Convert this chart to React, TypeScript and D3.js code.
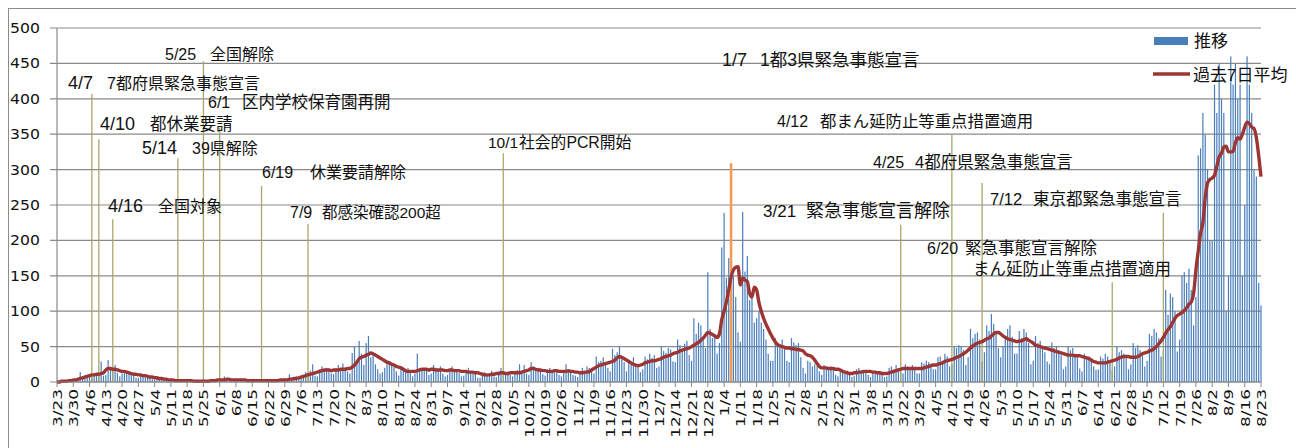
import * as d3 from 'd3';

// daily new cases, one row per week (Mon..Sun), from 2020-03-23
const daily: number[] = [
  0, 0, 2, 1, 0, 3, 2,
  2, 4, 3, 14, 5, 9, 8,
  8, 11, 9, 13, 12, 29, 9,
  10, 31, 21, 18, 24, 13, 8,
  12, 16, 14, 12, 11, 9, 6,
  6, 10, 8, 7, 9, 5, 4,
  3, 5, 4, 3, 4, 2, 2,
  2, 3, 2, 1, 3, 1, 1,
  1, 2, 1, 1, 1, 1, 0,
  0, 1, 2, 1, 3, 4, 2,
  2, 4, 8, 3, 3, 2, 1,
  2, 3, 4, 3, 2, 2, 1,
  1, 3, 2, 3, 2, 1, 2,
  2, 2, 1, 3, 3, 4, 3,
  3, 4, 11, 6, 7, 8, 4,
  5, 10, 14, 12, 16, 25, 9,
  8, 18, 22, 17, 20, 19, 12,
  11, 19, 24, 18, 26, 20, 15,
  12, 41, 50, 27, 58, 40, 24,
  55, 65, 35, 40, 25, 18, 12,
  14, 20, 30, 28, 25, 22, 15,
  9, 22, 18, 16, 20, 14, 8,
  12, 40, 15, 17, 19, 16, 10,
  12, 24, 20, 15, 22, 12, 8,
  10, 19, 22, 16, 17, 13, 8,
  9, 16, 20, 13, 15, 12, 6,
  6, 12, 14, 10, 9, 16, 8,
  7, 15, 20, 14, 11, 14, 10,
  8, 14, 17, 25, 12, 24, 12,
  10, 28, 22, 18, 20, 16, 11,
  9, 18, 20, 15, 18, 17, 10,
  8, 16, 25, 14, 17, 10, 9,
  7, 15, 20, 14, 22, 20, 20,
  12, 36, 28, 30, 35, 28, 20,
  15, 47, 38, 42, 50, 33, 28,
  15, 30, 26, 35, 25, 22, 14,
  18, 36, 32, 40, 34, 38, 20,
  22, 50, 44, 41, 48, 46, 29,
  28, 60, 52, 46, 54, 58, 38,
  30, 90, 68, 84, 80, 62, 48,
  155, 75, 62, 68, 40, 55, 190,
  239, 147, 175, 240, 150, 120, 70,
  57, 240, 156, 178, 116, 126, 84,
  90, 100, 84, 75, 60, 40, 30,
  30, 62, 55, 48, 60, 50, 30,
  28, 62, 56, 52, 55, 35, 20,
  12, 30, 28, 22, 25, 22, 15,
  10, 24, 22, 20, 22, 18, 10,
  8, 15, 14, 12, 16, 12, 7,
  9, 18, 20, 16, 17, 15, 10,
  7, 15, 16, 14, 13, 12, 7,
  8, 20, 22, 18, 24, 20, 14,
  12, 25, 22, 20, 24, 18, 12,
  12, 28, 26, 30, 28, 26, 18,
  18, 35, 36, 30, 40, 36, 22,
  25, 50, 48, 52, 50, 45, 24,
  35, 75, 62, 68, 70, 60, 29,
  42, 80, 72, 96, 82, 70, 48,
  35, 50, 62, 75, 80, 64, 40,
  40, 72, 62, 75, 70, 55, 25,
  30, 65, 55, 58, 50, 42, 29,
  25, 56, 48, 50, 45, 38, 18,
  22, 50, 45, 48, 40, 35, 19,
  15, 40, 34, 36, 32, 22, 17,
  18, 36, 33, 40, 36, 30, 17,
  22, 50, 42, 45, 40, 35, 18,
  25, 55, 48, 52, 45, 40, 22,
  30, 68, 65, 75, 70, 62, 36,
  45, 130, 95, 125, 120, 100, 43,
  60, 150, 155, 140, 160, 130, 80,
  120, 320, 330, 380, 350, 300, 200,
  200, 420, 380, 450, 400, 380, 101,
  150, 460, 420, 450, 400, 420, 150,
  250, 460, 420, 380, 300, 290, 140,
  108,
];

// 過去7日平均, same day order
const avg7: number[] = [
  0, 0, 1, 1, 1, 2, 2,
  3, 3, 4, 5, 6, 7, 8,
  9, 10, 10, 11, 11, 12, 13,
  17, 19, 19, 18, 18, 17, 16,
  15, 15, 14, 13, 12, 11, 11,
  10, 10, 9, 9, 8, 7, 7,
  6, 6, 5, 5, 4, 4, 3,
  3, 3, 2, 2, 2, 2, 2,
  2, 2, 2, 1, 1, 1, 1,
  1, 1, 1, 2, 2, 2, 3,
  3, 3, 3, 4, 4, 3, 3,
  3, 3, 3, 3, 3, 2, 2,
  2, 2, 2, 2, 2, 2, 2,
  2, 2, 2, 2, 2, 3, 3,
  3, 3, 4, 4, 5, 5, 6,
  7, 8, 9, 10, 11, 12, 13,
  14, 15, 16, 17, 17, 17, 16,
  17, 17, 17, 18, 18, 18, 19,
  19, 21, 24, 28, 33, 35, 36,
  38, 39, 41, 40, 38, 36, 34,
  32, 30, 28, 27, 25, 24, 22,
  21, 20, 18, 16, 15, 15, 15,
  15, 16, 17, 18, 18, 18, 17,
  18, 18, 17, 17, 17, 17, 16,
  16, 17, 17, 16, 16, 16, 15,
  15, 15, 14, 14, 14, 13, 13,
  12, 11, 10, 10, 10, 11, 11,
  12, 12, 13, 13, 12, 12, 13,
  13, 13, 13, 13, 14, 15, 16,
  17, 19, 19, 18, 17, 17, 16,
  16, 15, 15, 15, 16, 16, 15,
  15, 15, 15, 16, 15, 15, 14,
  14, 13, 13, 14, 14, 15, 17,
  19, 21, 23, 24, 25, 26, 27,
  28, 29, 31, 34, 36, 35, 33,
  31, 29, 27, 25, 24, 23, 24,
  25, 27, 28, 29, 30, 30, 31,
  32, 33, 35, 36, 37, 38, 40,
  41, 42, 44, 45, 46, 47, 48,
  50, 52, 54, 56, 59, 62, 66,
  70, 69, 67, 65, 63, 68, 88,
  100, 113, 130, 148, 158, 162, 163,
  137, 147, 144, 142, 125, 120, 134,
  130, 112, 100, 90, 82, 75, 68,
  62, 57, 53, 51, 50, 49, 48,
  48, 47, 47, 46, 46, 45, 44,
  40, 38, 37, 35, 31, 26, 22,
  20, 20, 20, 19, 19, 19, 18,
  18, 17, 15, 14, 13, 12, 12,
  13, 13, 14, 14, 15, 15, 15,
  15, 14, 14, 13, 13, 12, 12,
  12, 13, 14, 15, 16, 17, 18,
  19, 19, 19, 19, 19, 19, 19,
  19, 19, 20, 21, 22, 23, 24,
  24, 25, 26, 27, 29, 30, 31,
  32, 33, 35, 36, 38, 40, 42,
  45, 48, 51, 53, 55, 56, 57,
  59, 61, 62, 65, 68, 70, 70,
  68, 65, 63, 61, 60, 59, 58,
  57, 58, 58, 60, 61, 59, 57,
  55, 52, 51, 50, 49, 48, 47,
  46, 45, 44, 43, 42, 41, 40,
  39, 38, 38, 38, 37, 37, 37,
  36, 35, 34, 33, 31, 29, 28,
  27, 27, 27, 27, 28, 29, 30,
  31, 32, 34, 35, 36, 36, 36,
  35, 35, 35, 36, 38, 40, 41,
  42, 44, 45, 47, 50, 54, 58,
  63, 69, 74, 78, 84, 90, 94,
  96, 98, 101, 105, 110, 113, 125,
  158, 185, 210, 225, 260, 281, 286,
  288, 292, 305, 318, 323, 332, 333,
  325, 325, 326, 338, 345, 343, 350,
  360, 367, 365, 360, 358, 345, 320,
  290,
];

const yTicks = [0, 50, 100, 150, 200, 250, 300, 350, 400, 450, 500];

// events: date, short label, description, top of the marker line (in cases)
const events = [
  { date: '2020-04-07', label: '4/7', text: '7都府県緊急事態宣言', top: 407 },
  { date: '2020-04-10', label: '4/10', text: '都休業要請', top: 343 },
  { date: '2020-04-16', label: '4/16', text: '全国対象', top: 230 },
  { date: '2020-05-14', label: '5/14', text: '39県解除', top: 316 },
  { date: '2020-05-25', label: '5/25', text: '全国解除', top: 453 },
  { date: '2020-06-01', label: '6/1', text: '区内学校保育園再開', top: 359 },
  { date: '2020-06-19', label: '6/19', text: '休業要請解除', top: 277 },
  { date: '2020-07-09', label: '7/9', text: '都感染確認200超', top: 223 },
  { date: '2020-10-01', label: '10/1', text: '社会的PCR開始', top: 323 },
  { date: '2021-01-07', label: '1/7', text: '1都3県緊急事態宣言', top: 309 },
  { date: '2021-03-21', label: '3/21', text: '緊急事態宣言解除', top: 222 },
  { date: '2021-04-12', label: '4/12', text: '都まん延防止等重点措置適用', top: 349 },
  { date: '2021-04-25', label: '4/25', text: '4都府県緊急事態宣言', top: 281 },
  { date: '2021-06-20', label: '6/20', text: '緊急事態宣言解除', text2: 'まん延防止等重点措置適用', top: 141 },
  { date: '2021-07-12', label: '7/12', text: '東京都緊急事態宣言', top: 239 },
];

// label placement (px): label x, baseline y, text x, font sizes
const eventLayout: Record<string, number[]> = {
  '4/7': [68, 89, 107, 18, 16],
  '4/10': [100, 130, 150, 18, 16.5],
  '4/16': [108, 212, 158, 18, 16],
  '5/14': [142, 154, 192, 18, 16],
  '5/25': [165, 60, 210, 16, 16],
  '6/1': [208, 108, 242, 16, 16.5],
  '6/19': [262, 178, 310, 16, 16],
  '7/9': [290, 218, 322, 16, 15.5],
  '10/1': [488, 148, 519, 15.5, 15.8],
  '1/7': [722, 66, 760, 18, 17.5],
  '3/21': [763, 217, 806, 17, 18],
  '4/12': [777, 127, 820, 16, 16.4],
  '4/25': [873, 168, 915, 16, 16.5],
  '6/20': [927, 254, 965, 16, 16.5],
  '7/12': [990, 205, 1033, 16.5, 16.5],
};

const W = 1296;
const H = 448;
const plot = { left: 57, right: 1261, top: 28, bottom: 382 };
const START = Date.UTC(2020, 2, 23);
const FONT_NUM = '"DejaVu Sans", sans-serif';
const FONT_TXT = '"Liberation Sans", "Noto Sans CJK JP", sans-serif';

export default function App() {
  const n = daily.length;
  const x = d3.scaleLinear().domain([0, n - 1]).range([plot.left, plot.right]);
  const y = d3.scaleLinear().domain([0, 500]).range([plot.bottom, plot.top]);

  const dates = d3.range(n).map((i) => d3.utcDay.offset(new Date(START), i));
  const fmt = d3.utcFormat('%-m/%-d');
  const weekIdx = d3.range(0, n, 7);
  const dayOf = (s: string) => d3.utcDay.count(new Date(START), new Date(s + 'T00:00:00Z'));

  const line = d3
    .line<number>()
    .x((_, i) => x(i))
    .y((d) => y(d))
    .curve(d3.curveMonotoneX);

  return (
    <svg
      width={W}
      height={H}
      style={{ position: 'absolute', left: 0, top: 0, display: 'block', background: '#fff' }}
    >
      <rect x={8.5} y={8.5} width={W + 10} height={H + 10} fill="#fff" stroke="#8c8c8c" />

      {/* grid */}
      {yTicks.map((t) => (
        <g key={t}>
          <line x1={50} x2={plot.right} y1={y(t)} y2={y(t)} stroke="#8a8a8a" strokeWidth={1.2} />
          <text
            transform={`translate(40,${y(t) + 5}) scale(1.12,1)`}
            textAnchor="end"
            fontFamily={FONT_NUM}
            fontSize={14}
            fill="#111"
          >
            {t}
          </text>
        </g>
      ))}
      <line x1={plot.left} x2={plot.left} y1={plot.top} y2={plot.bottom} stroke="#8a8a8a" strokeWidth={1.2} />

      {/* bars */}
      {daily.map((v, i) => (
        <rect key={i} x={x(i) - 0.6} y={y(v)} width={1.2} height={plot.bottom - y(v)} fill="#4a7ebb" />
      ))}

      {/* event markers */}
      {events.map((e) => {
        const xx = x(dayOf(e.date));
        const orange = e.label === '1/7';
        return (
          <line
            key={e.date}
            x1={xx}
            x2={xx}
            y1={y(e.top)}
            y2={plot.bottom}
            stroke={orange ? '#f59a50' : '#a8a86a'}
            strokeWidth={orange ? 2.6 : 1.3}
          />
        );
      })}

      {/* 7-day average */}
      <path d={line(avg7) ?? ''} fill="none" stroke="#9c3634" strokeWidth={3.4} strokeLinejoin="round" />

      {/* x axis */}
      <line x1={plot.left} x2={plot.right} y1={plot.bottom} y2={plot.bottom} stroke="#8a8a8a" strokeWidth={1.2} />
      {weekIdx.map((i) => (
        <g key={i}>
          <line x1={x(i)} x2={x(i)} y1={plot.bottom} y2={plot.bottom + 5} stroke="#8a8a8a" />
          <text
            transform={`translate(${x(i) + 5},${plot.bottom + 7}) rotate(-90) scale(1.3,1)`}
            textAnchor="end"
            fontFamily={FONT_NUM}
            fontSize={13}
            fill="#111"
          >
            {fmt(dates[i])}
          </text>
        </g>
      ))}

      {/* event labels */}
      {events.map((e) => {
        const [lx, ly, tx, lfs, tfs] = eventLayout[e.label];
        return (
          <g key={'t' + e.date} fontFamily={FONT_TXT} fill="#111">
            <text x={lx} y={ly} fontSize={lfs}>{e.label}</text>
            <text x={tx} y={ly} fontSize={tfs}>{e.text}</text>
            {e.text2 && (
              <text x={tx + 8} y={ly + 21} fontSize={tfs}>{e.text2}</text>
            )}
          </g>
        );
      })}

      {/* legend */}
      <g fontFamily={FONT_TXT} fontSize={17} fill="#111">
        <rect x={1154} y={37} width={34} height={8} fill="#4a7ebb" />
        <text x={1194} y={47}>推移</text>
        <line x1={1153} x2={1190} y1={74} y2={74} stroke="#9c3634" strokeWidth={3.4} />
        <text x={1193} y={81}>過去7日平均</text>
      </g>
    </svg>
  );
}
